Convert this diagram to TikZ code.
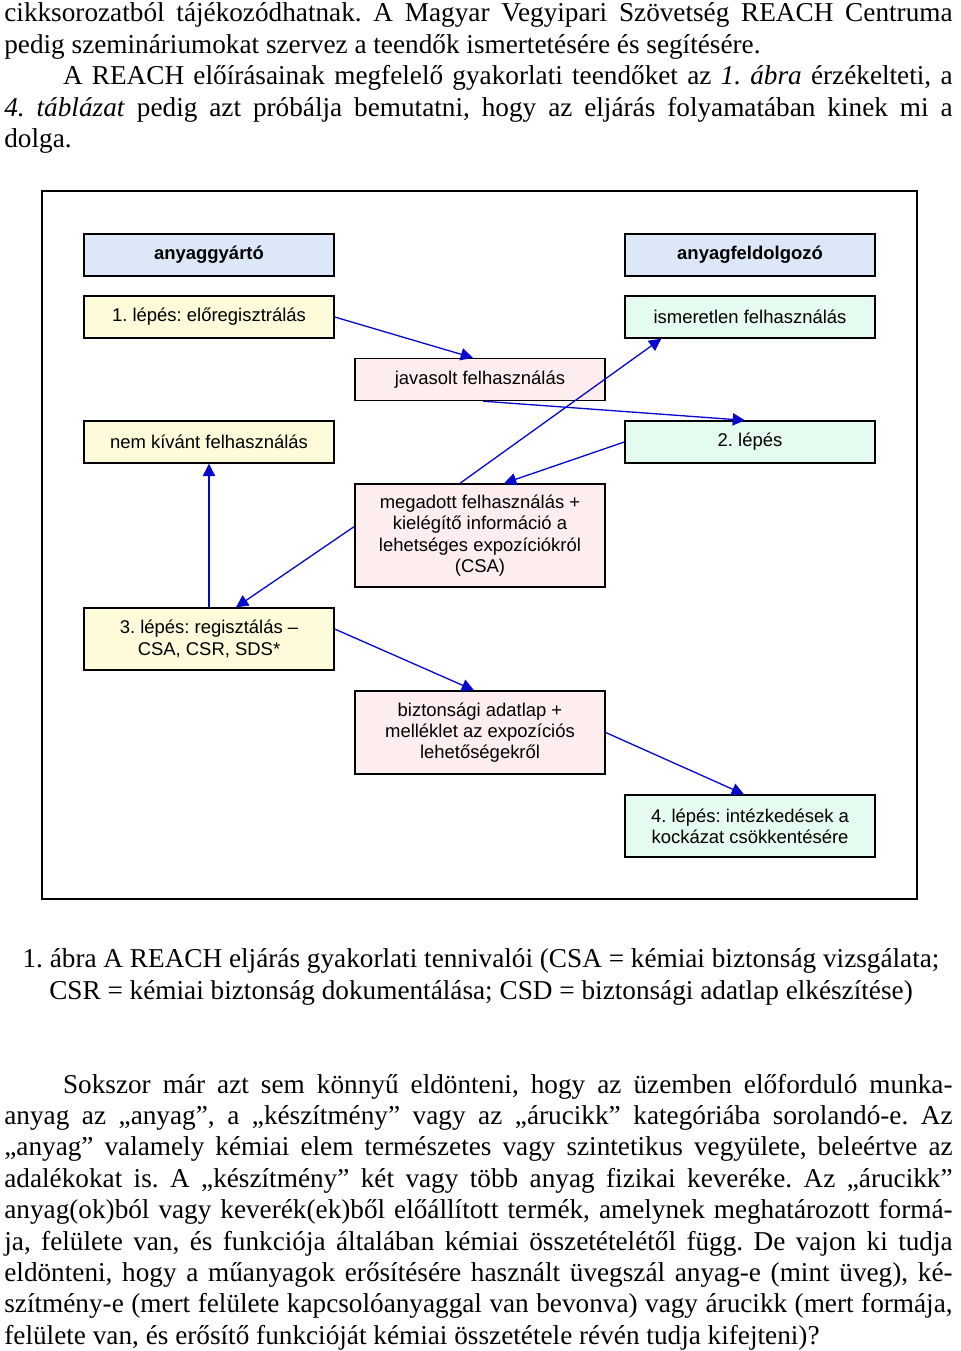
\documentclass[tikz,border=0pt]{standalone}
\usepackage{fontspec}
\setmainfont{Liberation Serif}
\newfontfamily\boxfont{Liberation Sans}
\usetikzlibrary{arrows.meta}
\frenchspacing

\definecolor{hdrblue}{RGB}{220,232,248}
\definecolor{stepyellow}{RGB}{253,251,217}
\definecolor{usegreen}{RGB}{230,251,239}
\definecolor{infopink}{RGB}{253,237,238}
\definecolor{flowblue}{RGB}{8,8,205}

% one justified line of the body text
\newcommand{\jline}[1]{\makebox[539.7pt][s]{#1}}

\begin{document}
\begin{tikzpicture}[x=0.02cm, y=-0.02cm, >={Triangle[length=7pt, width=7pt]},
  box/.style={draw=black, line width=0.8pt, minimum width=5cm,
    minimum height=0.84cm, align=center, inner sep=2pt,
    font=\boxfont\fontsize{10.5pt}{12.1pt}\selectfont},
  hdr/.style={box, fill=hdrblue, font=\boxfont\bfseries\fontsize{10.5pt}{12.1pt}\selectfont},
  stepbox/.style={box, fill=stepyellow},
  usebox/.style={box, fill=usegreen},
  infobox/.style={box, fill=infopink},
  flow/.style={->, flowblue, line width=0.75pt},
  body/.style={anchor=base west, inner sep=0pt,
    font=\fontsize{15.5pt}{17.85pt}\selectfont}]
  \useasboundingbox (0,0) rectangle (960,1351);

  % text above the figure
  \foreach \t [count=\i] in {
    {cikksorozatból tájékozódhatnak. A Magyar Vegyipari Szövetség REACH Centruma},
    {pedig szemináriumokat szervez a teendők ismertetésére és segítésére.},
    {\hspace*{33.4pt}A REACH előírásainak megfelelő gyakorlati teendőket az \textit{1. ábra} érzékelteti, a},
    {\textit{4. táblázat} pedig azt próbálja bemutatni, hogy az eljárás folyamatában kinek mi a},
    {dolga.}} {
    \ifnum\i=2 \def\jl{\t}\else\ifnum\i=5 \def\jl{\t}\else\def\jl{\jline{\t}}\fi\fi
    \node[body] (top\i) at (4, {22+31.5*(\i-1)}) {\jl};
  }

  % frame of the figure
  \draw[line width=0.9pt] (42,191) rectangle (917,899);

  % column heads
  \node[hdr] (maker) at (209,255) {anyaggyártó};
  \node[hdr] (user) at (750,255) {anyagfeldolgozó};

  % steps and messages
  \node[stepbox] (step1) at (209,317) {1. lépés: előregisztrálás};
  \node[usebox] (unknown) at (750,317) {ismeretlen felhasználás};
  \node[infobox] (proposed) at (480,379.5) {javasolt felhasználás};
  \node[stepbox] (unwanted) at (209,442) {nem kívánt felhasználás};
  \node[usebox] (step2) at (750,442) {2. lépés};
  \node[infobox, minimum height=2.06cm] (given) at (480,535.5)
    {megadott felhasználás +\\kielégítő információ a\\lehetséges expozíciókról\\(CSA)};
  \node[stepbox, minimum height=1.24cm] (step3) at (209,639)
    {3. lépés: regisztálás –\\CSA, CSR, SDS*};
  \node[infobox, minimum height=1.66cm] (sheet) at (480,732.5)
    {biztonsági adatlap +\\melléklet az expozíciós\\lehetőségekről};
  \node[usebox, minimum height=1.24cm] (step4) at (750,826)
    {4. lépés: intézkedések a\\kockázat csökkentésére};

  % arrows
  \draw[flow] (step1.east) -- ([xshift=-0.14cm]proposed.north);
  \draw[flow] ([xshift=0.06cm]proposed.south) -- ([xshift=-0.1cm]step2.north);
  \draw[flow] ([xshift=-0.4cm]given.north) -- ([xshift=0.74cm]unknown.south west);
  \draw[flow] (step2.west) -- ([xshift=0.48cm]given.north);
  \draw[flow] ([yshift=0.18cm]given.west) -- ([xshift=0.54cm]step3.north);
  \draw[flow] (step3.north) -- (unwanted.south);
  \draw[flow] ([yshift=0.2cm]step3.east) -- ([xshift=-0.12cm]sheet.north);
  \draw[flow] (sheet.east) -- ([xshift=-0.12cm]step4.north);

  % caption
  \node[body, anchor=base] (cap1) at (481,967)
    {1. ábra A REACH eljárás gyakorlati tennivalói (CSA = kémiai biztonság vizsgálata;};
  \node[body, anchor=base] (cap2) at (481,999)
    {CSR = kémiai biztonság dokumentálása; CSD = biztonsági adatlap elkészítése)};

  % text below the figure
  \foreach \t [count=\i] in {
    {\hspace*{33.4pt}Sokszor már azt sem könnyű eldönteni, hogy az üzemben előforduló munka-},
    {anyag az „anyag”, a „készítmény” vagy az „árucikk” kategóriába sorolandó-e. Az},
    {„anyag” valamely kémiai elem természetes vagy szintetikus vegyülete, beleértve az},
    {adalékokat is. A „készítmény” két vagy több anyag fizikai keveréke. Az „árucikk”},
    {anyag(ok)ból vagy keverék(ek)ből előállított termék, amelynek meghatározott formá-},
    {ja, felülete van, és funkciója általában kémiai összetételétől függ. De vajon ki tudja},
    {eldönteni, hogy a műanyagok erősítésére használt üvegszál anyag-e (mint üveg), ké-},
    {szítmény-e (mert felülete kapcsolóanyaggal van bevonva) vagy árucikk (mert formája,}} {
    \node[body] (low\i) at (4, {1093+31.4*(\i-1)}) {\jline{\t}};
  }
  \node[body] (low9) at (4,1344)
    {felülete van, és erősítő funkcióját kémiai összetétele révén tudja kifejteni)?};
\end{tikzpicture}
\end{document}
